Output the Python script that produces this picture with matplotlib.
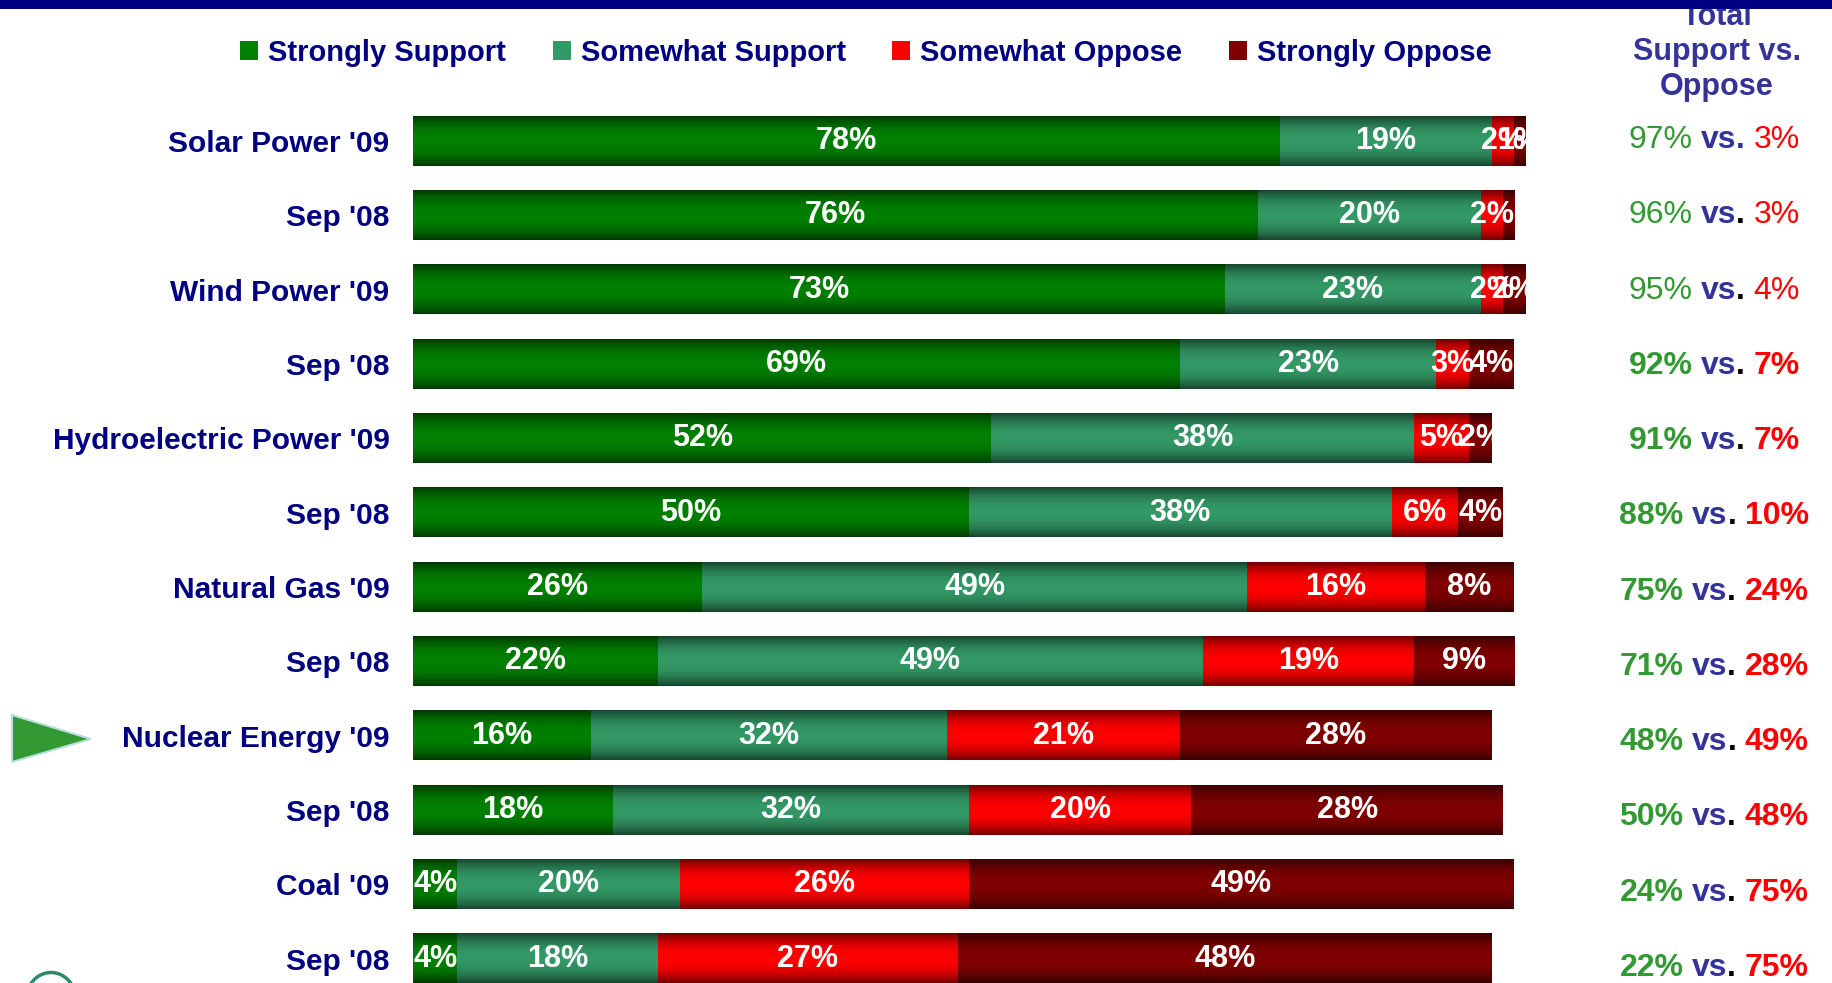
import numpy as np
import matplotlib.pyplot as plt
from matplotlib.patches import Patch, Polygon, Rectangle, Arc
from matplotlib.offsetbox import TextArea, HPacker, AnnotationBbox

plt.rcParams['font.family'] = ['Liberation Sans', 'DejaVu Sans']

###     Data

rows = ["Solar Power '09", "Sep '08", "Wind Power '09", "Sep '08",
        "Hydroelectric Power '09", "Sep '08", "Natural Gas '09", "Sep '08",
        "Nuclear Energy '09", "Sep '08", "Coal '09", "Sep '08"]
series = ['Strongly Support', 'Somewhat Support', 'Somewhat Oppose', 'Strongly Oppose']

strongly_support = [78, 76, 73, 69, 52, 50, 26, 22, 16, 18, 4, 4]
somewhat_support = [19, 20, 23, 23, 38, 38, 49, 49, 32, 32, 20, 18]
somewhat_oppose  = [2, 2, 2, 3, 5, 6, 16, 19, 21, 20, 26, 27]
strongly_oppose  = [1, 1, 2, 4, 2, 4, 8, 9, 28, 28, 49, 48]

total_support = [97, 96, 95, 92, 91, 88, 75, 71, 48, 50, 24, 22]
total_oppose  = [3, 3, 4, 7, 7, 10, 24, 28, 49, 48, 75, 75]

# label of the 1% in Sep '08 solar is hidden in the original
hidden = [(3, 1)]

colors = ['#008000', '#339966', '#ff0000', '#800000']
navy = '#000080'
blue = '#333399'
green_txt = '#339933'
red_txt = '#ff0000'


def gradient(col, n=64):
    rgb = np.array(plt.matplotlib.colors.to_rgb(col))
    t = np.linspace(0, 1, n)
    f = 0.45 + 0.55 * (1 - np.abs(2 * t - 1) ** 2.2)
    return (f[:, None] * rgb[None, :])[:, None, :]


fig = plt.figure(figsize=(18.32, 9.83), dpi=100)
ax = fig.add_axes([413 / 1832, -0.0132, 1112 / 1832, 0.9074])

y = np.arange(len(rows))
data = [strongly_support, somewhat_support, somewhat_oppose, strongly_oppose]
left = np.zeros(len(rows))
bar_h = 0.66

for k, (vals, col) in enumerate(zip(data, colors)):
    cont = ax.barh(y, vals, left=left, height=bar_h, color=col, zorder=1)
    for p in cont.patches:
        x0, y0 = p.get_x(), p.get_y()
        w, h = p.get_width(), p.get_height()
        ax.imshow(gradient(col), extent=(x0, x0 + w, y0 + h, y0),
                  aspect='auto', zorder=2, interpolation='bilinear')
    labels = []
    for i, v in enumerate(vals):
        labels.append('' if (k, i) in hidden else f'{v}%')
    ax.bar_label(cont, labels=labels, label_type='center', color='white',
                 fontsize=22, fontweight='bold')
    left = left + np.array(vals)

ax.set_xlim(0, 100)
ax.set_ylim(len(rows) - 0.5, -0.5)
ax.set_yticks(y)
ax.set_yticklabels(rows, fontsize=21.5, fontweight='bold', color=navy)
ax.tick_params(axis='y', length=0, pad=17)
ax.set_xticks([])
for s in ax.spines.values():
    s.set_visible(False)

# right column: total support vs oppose
for i in range(len(rows)):
    w = 'normal' if i < 3 else 'bold'
    g = TextArea(f'{total_support[i]}%', textprops=dict(color=green_txt, fontsize=23, fontweight=w))
    vs = TextArea('vs', textprops=dict(color=blue, fontsize=23, fontweight='bold'))
    dot = TextArea('.', textprops=dict(color=blue if i == 0 else 'black', fontsize=23, fontweight='bold'))
    r = TextArea(f'{total_oppose[i]}%', textprops=dict(color=red_txt, fontsize=23, fontweight=w))
    mid = HPacker(children=[vs, dot], pad=0, sep=0, align='baseline')
    box = HPacker(children=[g, mid, r], pad=0, sep=6, align='baseline')
    ab = AnnotationBbox(box, (117, i - 0.016 + 0.0126 * i), xycoords='data',
                        box_alignment=(0.5, 0.5), frameon=False, annotation_clip=False)
    ax.add_artist(ab)

fig.text(1717 / 1832, 1 - 52 / 983, 'Total\nSupport vs.\nOppose', ha='center', va='center',
         multialignment='center', fontsize=22, fontweight='bold', color=blue,
         linespacing=1.2, zorder=1)

# legend
handles = [Patch(facecolor=c, edgecolor='none') for c in colors]
fig.legend(handles, series, ncol=4, loc='center left',
           bbox_to_anchor=(240 / 1832, 1 - 53 / 983), frameon=False,
           prop={'size': 21, 'weight': 'bold'}, labelcolor=navy,
           handlelength=0.62, handleheight=0.65, handletextpad=0.34,
           columnspacing=1.6, borderpad=0, borderaxespad=0)

# top band
fig.add_artist(Rectangle((0, 1 - 9 / 983), 1, 9 / 983, transform=fig.transFigure,
                         facecolor=navy, edgecolor='none', zorder=10))

# pointer arrow at nuclear row
arrow = Polygon([(12 / 1832, 1 - 715 / 983), (12 / 1832, 1 - 762 / 983), (91 / 1832, 1 - 739 / 983)],
                closed=True, transform=fig.transFigure, facecolor='#339933',
                edgecolor='#b8e0e0', linewidth=1.5)
fig.add_artist(arrow)

# bit of logo at bottom left
fig.add_artist(Arc((0.51, -0.17), 0.5, 0.55, theta1=35, theta2=150,
                   transform=fig.dpi_scale_trans, color='#2a8a6a', linewidth=2.5))

plt.savefig('out.png', dpi=100)
